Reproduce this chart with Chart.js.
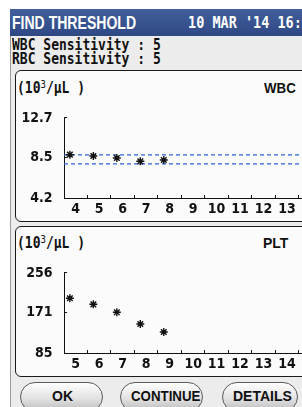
<!DOCTYPE html>
<html>
<head>
<meta charset="utf-8">
<script src="https://cdn.jsdelivr.net/npm/chart.js@4.4.0/dist/chart.umd.min.js"></script>
<style>
  html, body { margin: 0; padding: 0; width: 302px; height: 407px; overflow: hidden; background: #fff; }
  .abs { position: absolute; }
  .screen { left: 10px; top: 36px; width: 330px; height: 380px; background: #ececec; border-left: 1px solid #9c9c9c; }
  .titlebar { left: 10px; top: 9px; width: 330px; height: 27px; background: linear-gradient(#425f9c, #2e4884); }
  .txt { position: absolute; white-space: nowrap; font-weight: bold; color: #111; }
  .mono { font-family: "DejaVu Sans Mono", monospace; font-size: 13px; line-height: 13px; }
  .tall { transform: scaleY(1.15); transform-origin: left bottom; }
  .sans { font-family: "Liberation Sans", Arial, sans-serif; }
  .panel { left: 15px; width: 330px; border: 1px solid #1a1a1a; border-radius: 6px; background: #fbfbfb; box-sizing: border-box; }
  .btn { top: 382px; height: 30px; border: 1px solid #5a5a5a; border-radius: 15px; box-sizing: border-box;
         background: linear-gradient(#fefefe, #e2e2e2 55%, #bdbdbd); }
  canvas { position: absolute; }
</style>
</head>
<body>
<div class="abs screen"></div>
<div class="abs titlebar"></div>
<div class="txt sans" style="left:12px; top:14px; font-size:18px; line-height:18px; color:#fff; transform:scaleX(0.78); transform-origin:left;">FIND THRESHOLD</div>
<div class="txt mono tall" style="left:188px; top:17px; font-size:13.5px; color:#fff;">10 MAR '14 16:18</div>

<div class="txt mono tall" style="left:12px; top:39px;">WBC Sensitivity : 5</div>
<div class="txt mono tall" style="left:12px; top:53px;">RBC Sensitivity : 5</div>

<div class="abs panel" style="top:70px; height:152px;"></div>
<div class="abs panel" style="top:226px; height:151px;"></div>

<div class="txt mono tall" style="left:17px; top:80px;">(10<sup style="font-size:9px; font-weight:normal; vertical-align:4px;">3</sup>/μL )</div>
<div class="txt sans" style="left:264px; top:81px; font-size:14px; line-height:14px; transform:scaleX(0.95); transform-origin:left;">WBC</div>
<div class="txt mono tall" style="left:17px; top:235px;">(10<sup style="font-size:9px; font-weight:normal; vertical-align:4px;">3</sup>/μL )</div>
<div class="txt sans" style="left:263px; top:236px; font-size:14px; line-height:14px;">PLT</div>

<canvas id="wbcChart" width="300" height="126" style="left:15px; top:95px;"></canvas>
<canvas id="pltChart" width="300" height="126" style="left:15px; top:250px;"></canvas>

<div class="abs btn" style="left:20px; width:83px;"></div>
<div class="abs btn" style="left:120px; width:83px;"></div>
<div class="abs btn" style="left:222px; width:76px;"></div>
<div class="txt sans" style="left:52px; top:389px; font-size:14px; line-height:14px;">OK</div>
<div class="txt sans" style="left:131px; top:389px; font-size:14px; line-height:14px; transform:scaleX(0.95); transform-origin:left;">CONTINUE</div>
<div class="txt sans" style="left:233px; top:389px; font-size:14px; line-height:14px;">DETAILS</div>

<script>
// WBC panel
const wbcXLabels = [4, 5, 6, 7, 8, 9, 10, 11, 12, 13];
const wbcYTicks = [4.2, 8.5, 12.7];
const wbcRunX = [3.75, 4.75, 5.75, 6.75, 7.75];
const wbcValues = [8.80, 8.66, 8.45, 8.10, 8.24];
const wbcLimits = [8.78, 7.82];

// PLT panel
const pltXLabels = [5, 6, 7, 8, 9, 10, 11, 12, 13, 14];
const pltYTicks = [85, 171, 256];
const pltRunX = [4.75, 5.75, 6.75, 7.75, 8.75];
const pltValues = [202, 189, 172, 147, 130];

// how many x units fit in the visible part of the plot
const visibleSpan = 10.46;

const tickFont = { family: '"Liberation Sans Narrow", "DejaVu Sans Condensed", "Liberation Sans", sans-serif', size: 14, weight: 'bold' };

function drawPanel(id, xLabels, yTicks, runX, values, limits) {
  const xMin = xLabels[0] - 0.5;
  const xMax = xMin + visibleSpan;
  const datasets = [{
    data: runX.map((x, i) => ({ x: x, y: values[i] })),
    pointStyle: 'star',
    pointRadius: 4,
    borderColor: '#111',
    borderWidth: 1.4
  }];
  limits.forEach(v => {
    datasets.push({
      data: [{ x: xMin, y: v }, { x: xMax, y: v }],
      showLine: true,
      borderColor: '#2f62d6',
      borderWidth: 1.2,
      borderDash: [4, 3],
      pointRadius: 0
    });
  });

  new Chart(document.getElementById(id), {
    type: 'scatter',
    data: { datasets: datasets },
    options: {
      responsive: false,
      animation: false,
      layout: { padding: { top: 9, left: 0, right: 0, bottom: 0 } },
      plugins: { legend: { display: false }, tooltip: { enabled: false } },
      scales: {
        x: {
          type: 'linear',
          min: xMin,
          max: xMax,
          afterBuildTicks: s => { s.ticks = xLabels.map(v => ({ value: v })); },
          afterFit: s => { s.height = 17.5; },
          grid: { drawOnChartArea: false, offset: true, tickLength: -3, color: '#111' },
          border: { color: '#111', width: 1 },
          ticks: { autoSkip: false, maxRotation: 0, padding: 6, color: '#111', font: tickFont, callback: v => String(v) }
        },
        y: {
          min: yTicks[0],
          max: yTicks[yTicks.length - 1],
          afterBuildTicks: s => { s.ticks = yTicks.map(v => ({ value: v })); },
          afterFit: s => { s.width = 49; },
          grid: { drawOnChartArea: false, tickLength: -3, color: '#111' },
          border: { color: '#111', width: 1 },
          ticks: { autoSkip: false, padding: 14.5, color: '#111', font: tickFont, callback: v => String(v) }
        }
      }
    }
  });
}

drawPanel('wbcChart', wbcXLabels, wbcYTicks, wbcRunX, wbcValues, wbcLimits);
drawPanel('pltChart', pltXLabels, pltYTicks, pltRunX, pltValues, []);
</script>
</body>
</html>
